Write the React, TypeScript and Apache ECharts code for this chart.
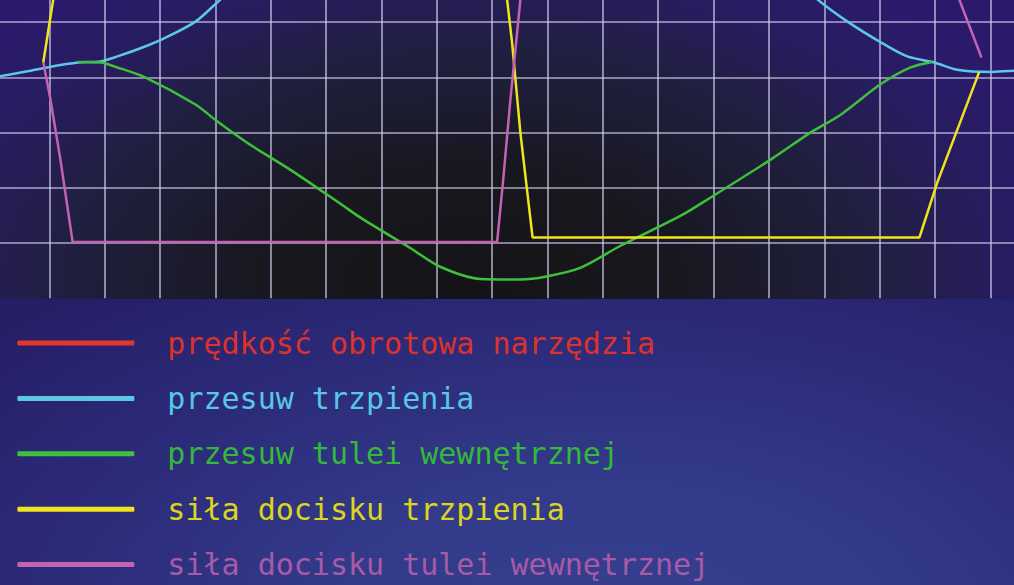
import { useEffect, useRef } from 'react';
import * as echarts from 'echarts';

// nazwy serii (legenda)
const seriesNames = [
  'prędkość obrotowa narzędzia',
  'przesuw trzpienia',
  'przesuw tulei wewnętrznej',
  'siła docisku trzpienia',
  'siła docisku tulei wewnętrznej',
];
const lineColors = ['#e3372c', '#5cc8e4', '#3ec03c', '#f0e41c', '#c462b4'];
const textColors = ['#dc322c', '#58c6e6', '#34b83c', '#dcd420', '#a85aa6'];

// oś X: 0..190, co 10 ; oś Y: 0..60, co 10
const xRange = [0, 190];
const yRange = [0, 60];
const gridStep = 10;

// prędkość obrotowa – poza kadrem
const rotationSpeed: number[][] = [];

const pinMove = [
  [0, 40.0], [6.0, 41.1], [10.0, 41.9], [15.2, 42.7], [19.2, 42.9], [22.3, 43.8],
  [27.3, 45.6], [31.0, 47.2], [36.4, 50.1], [40.9, 54.1], [46.3, 58.6], [55.3, 64.9],
  [73.4, 72.2], [94.7, 74.9], [116.8, 72.2], [134.8, 64.9], [143.9, 58.6], [148.8, 54.1],
  [154.2, 50.1], [160.3, 46.3], [165.0, 43.8], [169.9, 42.7], [174.0, 41.4], [180.2, 41.0],
  [184.3, 41.2], [190, 41.2],
];

const sleeveMove = [
  [15.2, 42.8], [19.2, 42.7], [22.3, 41.8], [27.3, 40.0], [36.4, 35.1], [40.0, 32.3],
  [46.3, 27.8], [53.5, 23.3], [62.6, 17.1], [66.2, 14.6], [75.2, 9.1], [80.6, 5.7],
  [87.9, 3.5], [95.1, 3.4], [99.6, 3.9], [105.9, 5.5], [113.2, 9.5], [124.0, 14.9],
  [129.4, 18.2], [140.3, 25.1], [147.5, 30.0], [152.9, 33.2], [160.1, 38.7], [165.6, 41.8],
  [169.5, 42.8],
];

const pinForce = [
  [8.9, 42.7], [10.7, 54.1], [13.6, 72.2], [90.8, 72.2], [92.7, 54.1], [93.6, 46.3],
  [95.1, 30.0], [97.3, 11.0], [167.2, 11.0], [170.4, 20.9], [178.0, 41.0],
];

const sleeveForce = [
  [8.9, 42.8], [10.2, 36.0], [12.0, 25.1], [14.2, 10.2], [90.9, 10.2], [92.0, 21.5],
  [93.3, 36.0], [94.2, 45.0], [95.1, 54.1], [96.8, 72.2], [167.5, 72.2], [174.4, 54.1],
  [178.4, 43.6],
];

const seriesData = [rotationSpeed, pinMove, sleeveMove, pinForce, sleeveForce];
const smoothness = [0, 0.3, 0.3, 0, 0];

// wykres jest przycięty: płótno wystaje poza kadr o tyle pikseli
const OFF_X = 6.35;
const OFF_Y = 32.7;

export default function App() {
  const ref = useRef<HTMLDivElement>(null);

  useEffect(() => {
    if (!ref.current) return;
    const chart = echarts.init(ref.current, undefined, { renderer: 'svg' });
    const splitLine = { show: true, lineStyle: { color: 'rgba(206,202,236,0.8)', width: 1.6 } };
    chart.setOption({
      animation: false,
      grid: { left: 0, top: 0, width: 1051.65, height: 331.2 },
      xAxis: {
        type: 'value',
        min: xRange[0],
        max: xRange[1],
        interval: gridStep,
        axisLine: { show: false },
        axisTick: { show: false },
        axisLabel: { show: false },
        splitLine,
      },
      yAxis: {
        type: 'value',
        min: yRange[0],
        max: yRange[1],
        interval: gridStep,
        axisLine: { show: false },
        axisTick: { show: false },
        axisLabel: { show: false },
        splitLine: { ...splitLine, showMinLine: false },
      },
      legend: {
        orient: 'vertical',
        left: 17 + OFF_X,
        top: 328.3 + OFF_Y,
        padding: 0,
        icon: 'roundRect',
        itemWidth: 117,
        itemHeight: 5,
        itemGap: 25.4,
        selectedMode: false,
        textStyle: {
          fontFamily: 'DejaVu Sans Mono',
          fontSize: 30,
          lineHeight: 30,
          padding: [0, 0, 0, 28],
        },
        data: seriesNames.map((name, i) => ({ name, textStyle: { color: textColors[i] } })),
      },
      series: seriesNames.map((name, i) => ({
        name,
        type: 'line',
        data: seriesData[i],
        showSymbol: false,
        smooth: smoothness[i],
        color: lineColors[i],
        lineStyle: { color: lineColors[i], width: 2.5 },
      })),
    });
    return () => chart.dispose();
  }, []);

  return (
    <div style={{ position: 'fixed', left: 0, top: 0, width: 1014, height: 585, overflow: 'hidden' }}>
      <div
        style={{
          position: 'absolute', left: 0, top: 0, width: 1014, height: 299,
          background:
            'radial-gradient(ellipse 640px 380px at 470px 290px, #141418 0%, #17171d 30%, #201f3e 62%, #281c62 85%, #2b1a6c 100%)',
        }}
      />
      <div
        style={{
          position: 'absolute', left: 0, top: 299, width: 1014, height: 286,
          background:
            'radial-gradient(ellipse 820px 430px at 610px 330px, #36418f 0%, #323a89 35%, #2c2b7a 68%, #261f68 100%), #261f68',
        }}
      />
      <div
        ref={ref}
        style={{ position: 'absolute', left: -OFF_X, top: -OFF_Y, width: 1014 + OFF_X + 40, height: 585 + OFF_Y }}
      />
    </div>
  );
}
